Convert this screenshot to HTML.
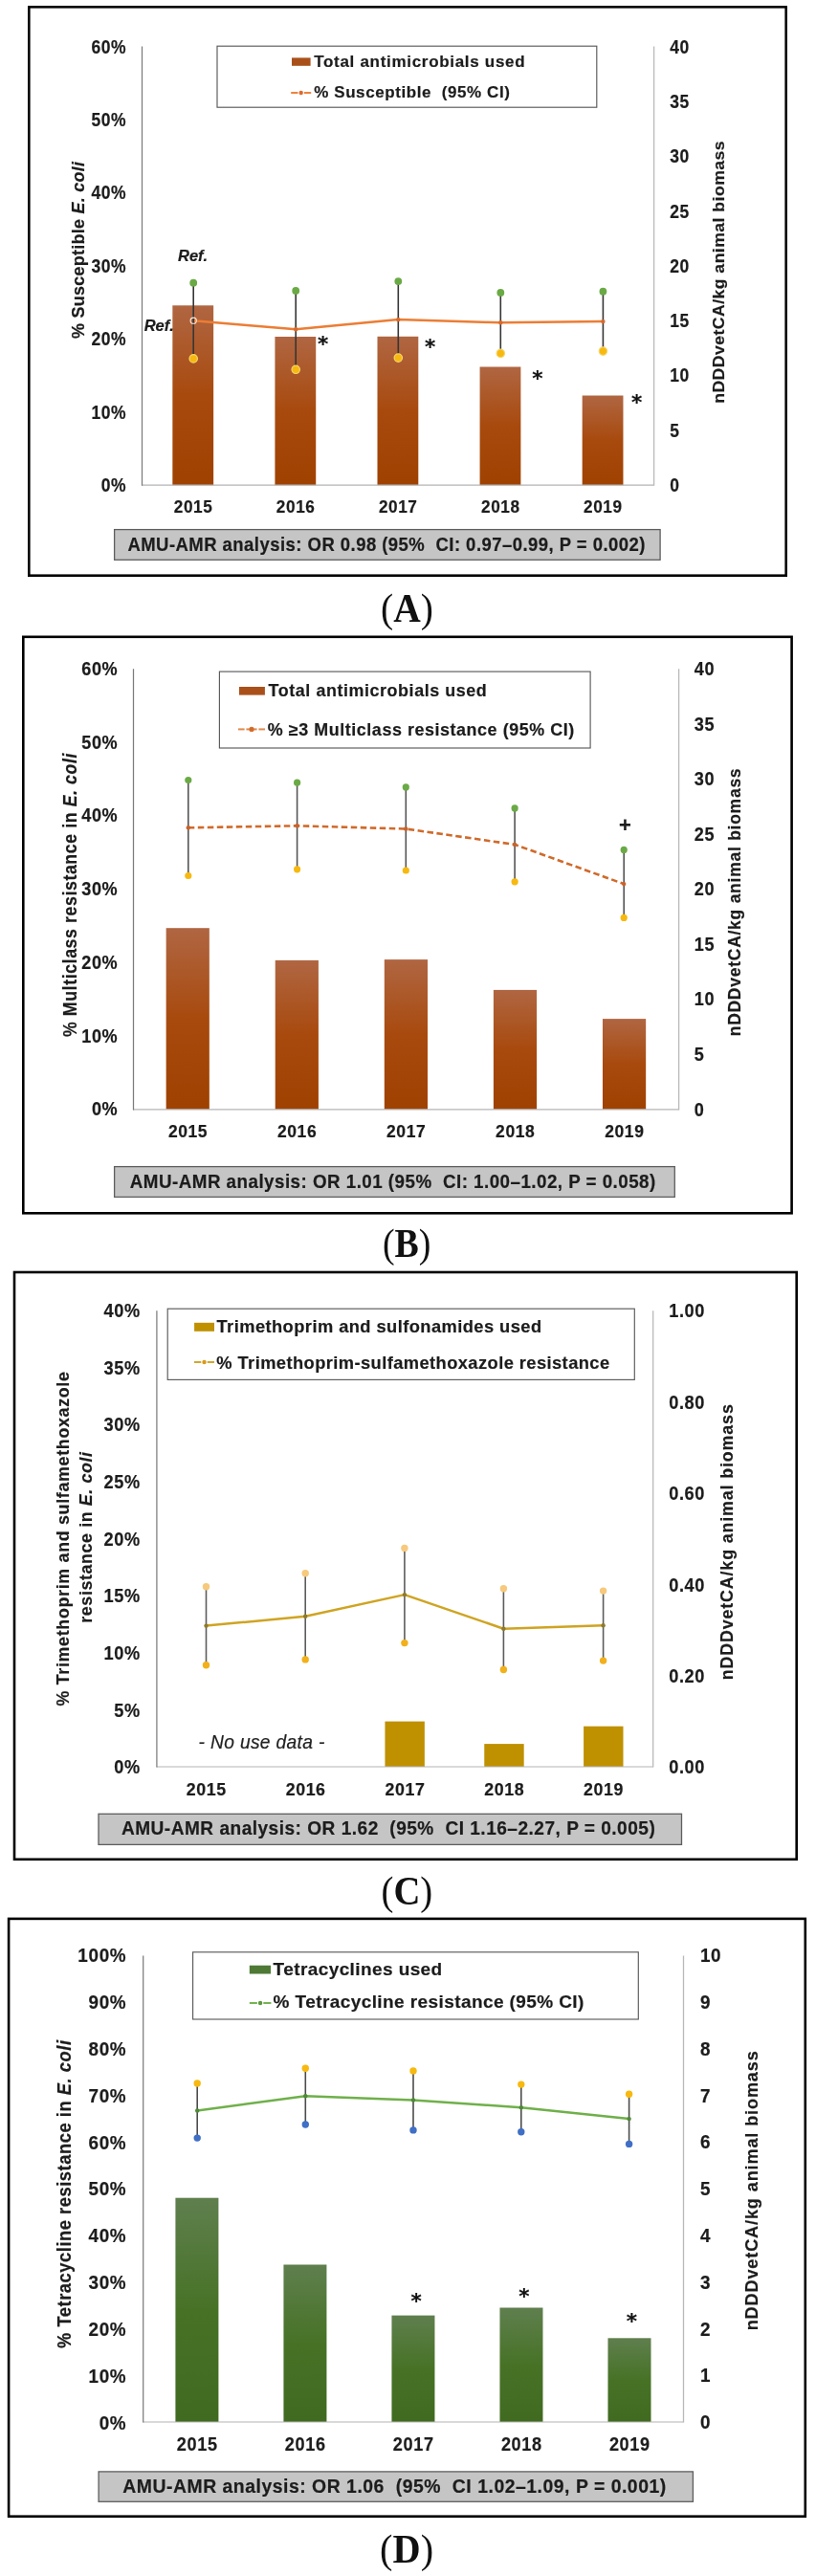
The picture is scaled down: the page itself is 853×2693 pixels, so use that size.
<!DOCTYPE html>
<html lang="en">
<head>
<meta charset="utf-8">
<title>AMU-AMR charts</title>
<style>
html,body{margin:0;padding:0;background:#fff;}
body{width:853px;height:2693px;overflow:hidden;}
svg{display:block;filter:blur(0.5px);}
text{white-space:pre;stroke:#1c1c1c;stroke-width:0.2px;stroke-linejoin:round;}
text.cap{stroke:none;}
</style>
</head>
<body>
<svg width="853" height="2693" viewBox="0 0 853 2693" font-family="'Liberation Sans', sans-serif" font-weight="bold" fill="#1c1c1c">
<defs><linearGradient id="gBrown" x1="0" y1="0" x2="0" y2="1"><stop offset="0" stop-color="#b06642"/><stop offset="0.5" stop-color="#a84a0e"/><stop offset="1" stop-color="#9f4100"/></linearGradient><linearGradient id="gGreen" x1="0" y1="0" x2="0" y2="1"><stop offset="0" stop-color="#5f7f4e"/><stop offset="0.5" stop-color="#477226"/><stop offset="1" stop-color="#406a20"/></linearGradient></defs>
<rect width="853" height="2693" fill="#fff"/>
<g>
<rect x="30.30" y="7.30" width="791.40" height="594.40" fill="#fff" stroke="#000" stroke-width="2.6"/>
<rect x="180.34" y="319.30" width="42.80" height="187.90" fill="url(#gBrown)"/>
<rect x="287.42" y="352.00" width="42.80" height="155.20" fill="url(#gBrown)"/>
<rect x="394.50" y="351.80" width="42.80" height="155.40" fill="url(#gBrown)"/>
<rect x="501.58" y="383.50" width="42.80" height="123.70" fill="url(#gBrown)"/>
<rect x="608.66" y="413.50" width="42.80" height="93.70" fill="url(#gBrown)"/>
<line x1="148.20" y1="507.20" x2="683.60" y2="507.20" stroke="#b4b4b4" stroke-width="1.2"/>
<line x1="148.50" y1="48.60" x2="148.50" y2="507.80" stroke="#7c7c7c" stroke-width="1.25"/>
<line x1="683.60" y1="48.60" x2="683.60" y2="507.80" stroke="#b9b9b9" stroke-width="1.3"/>
<text transform="translate(132.20,55.55) scale(1,1.11)" font-size="17.5" text-anchor="end" letter-spacing="0.6">60%</text>
<text transform="translate(132.20,131.95) scale(1,1.11)" font-size="17.5" text-anchor="end" letter-spacing="0.6">50%</text>
<text transform="translate(132.20,208.35) scale(1,1.11)" font-size="17.5" text-anchor="end" letter-spacing="0.6">40%</text>
<text transform="translate(132.20,284.75) scale(1,1.11)" font-size="17.5" text-anchor="end" letter-spacing="0.6">30%</text>
<text transform="translate(132.20,361.15) scale(1,1.11)" font-size="17.5" text-anchor="end" letter-spacing="0.6">20%</text>
<text transform="translate(132.20,437.55) scale(1,1.11)" font-size="17.5" text-anchor="end" letter-spacing="0.6">10%</text>
<text transform="translate(132.20,513.95) scale(1,1.11)" font-size="17.5" text-anchor="end" letter-spacing="0.6">0%</text>
<text transform="translate(700.30,55.65) scale(1,1.11)" font-size="17.5" letter-spacing="0.6">40</text>
<text transform="translate(700.30,112.94) scale(1,1.11)" font-size="17.5" letter-spacing="0.6">35</text>
<text transform="translate(700.30,170.23) scale(1,1.11)" font-size="17.5" letter-spacing="0.6">30</text>
<text transform="translate(700.30,227.52) scale(1,1.11)" font-size="17.5" letter-spacing="0.6">25</text>
<text transform="translate(700.30,284.80) scale(1,1.11)" font-size="17.5" letter-spacing="0.6">20</text>
<text transform="translate(700.30,342.09) scale(1,1.11)" font-size="17.5" letter-spacing="0.6">15</text>
<text transform="translate(700.30,399.38) scale(1,1.11)" font-size="17.5" letter-spacing="0.6">10</text>
<text transform="translate(700.30,456.67) scale(1,1.11)" font-size="17.5" letter-spacing="0.6">5</text>
<text transform="translate(700.30,513.95) scale(1,1.11)" font-size="17.5" letter-spacing="0.6">0</text>
<text transform="translate(202.04,535.99) scale(1,1.07)" font-size="17.2" text-anchor="middle" letter-spacing="0.6">2015</text>
<text transform="translate(309.12,535.99) scale(1,1.07)" font-size="17.2" text-anchor="middle" letter-spacing="0.6">2016</text>
<text transform="translate(416.20,535.99) scale(1,1.07)" font-size="17.2" text-anchor="middle" letter-spacing="0.6">2017</text>
<text transform="translate(523.28,535.99) scale(1,1.07)" font-size="17.2" text-anchor="middle" letter-spacing="0.6">2018</text>
<text transform="translate(630.36,535.99) scale(1,1.07)" font-size="17.2" text-anchor="middle" letter-spacing="0.6">2019</text>
<polyline points="202.20,335.20 309.20,344.30 416.30,334.10 523.30,337.30 630.40,336.10" fill="none" stroke="#ec7d34" stroke-width="2.5" stroke-linejoin="round"/>
<line x1="202.20" y1="295.70" x2="202.20" y2="374.90" stroke="#363636" stroke-width="1.6"/>
<line x1="309.20" y1="303.90" x2="309.20" y2="386.30" stroke="#363636" stroke-width="1.6"/>
<line x1="416.30" y1="294.10" x2="416.30" y2="374.10" stroke="#363636" stroke-width="1.6"/>
<line x1="523.30" y1="305.90" x2="523.30" y2="369.40" stroke="#363636" stroke-width="1.6"/>
<line x1="630.40" y1="304.70" x2="630.40" y2="367.10" stroke="#363636" stroke-width="1.6"/>
<circle cx="309.20" cy="344.30" r="2.2" fill="#d9692a"/>
<circle cx="416.30" cy="334.10" r="2.2" fill="#d9692a"/>
<circle cx="523.30" cy="337.30" r="2.2" fill="#d9692a"/>
<circle cx="630.40" cy="336.10" r="2.2" fill="#d9692a"/>
<circle cx="202.20" cy="295.70" r="3.9" fill="#6aaa45"/>
<circle cx="202.20" cy="374.90" r="4.2" fill="#f7b90f" stroke="#f6d66a" stroke-width="1.2"/>
<circle cx="309.20" cy="303.90" r="3.9" fill="#6aaa45"/>
<circle cx="309.20" cy="386.30" r="4.2" fill="#f7b90f" stroke="#f6d66a" stroke-width="1.2"/>
<circle cx="416.30" cy="294.10" r="3.9" fill="#6aaa45"/>
<circle cx="416.30" cy="374.10" r="4.2" fill="#f7b90f" stroke="#f6d66a" stroke-width="1.2"/>
<circle cx="523.30" cy="305.90" r="3.9" fill="#6aaa45"/>
<circle cx="523.30" cy="369.40" r="4.2" fill="#f7b90f" stroke="#f6d66a" stroke-width="1.2"/>
<circle cx="630.40" cy="304.70" r="3.9" fill="#6aaa45"/>
<circle cx="630.40" cy="367.10" r="4.2" fill="#f7b90f" stroke="#f6d66a" stroke-width="1.2"/>
<rect x="227.00" y="48.20" width="396.80" height="64.00" fill="#fff" stroke="#5a5a5a" stroke-width="1.15"/>
<rect x="305.00" y="60.40" width="19.60" height="8.40" fill="#a9501a"/>
<text transform="translate(328.20,70.00) scale(1,0.98)" font-size="17.0" textLength="220.40" lengthAdjust="spacing">Total antimicrobials used</text>
<line x1="304.20" y1="97.00" x2="311.50" y2="97.00" stroke="#ec7d34" stroke-width="1.9"/>
<line x1="317.90" y1="97.00" x2="325.20" y2="97.00" stroke="#ec7d34" stroke-width="1.9"/>
<circle cx="314.70" cy="97.00" r="2.2" fill="#e2692a"/>
<text transform="translate(328.20,101.80) scale(1,0.98)" font-size="17.0" textLength="204.70" lengthAdjust="spacing">% Susceptible &#160;(95% CI)</text>
<rect x="119.60" y="553.60" width="570.50" height="31.70" fill="#c5c5c5" stroke="#5e5e5e" stroke-width="1.3"/>
<text transform="translate(133.40,575.60) scale(1,1.07)" font-size="18.5" textLength="541.10" lengthAdjust="spacing">AMU-AMR analysis: OR 0.98 (95% &#160;CI: 0.97–0.99, P = 0.002)</text>
<text transform="translate(87.90,353.90) rotate(-90) scale(1,1.07)" font-size="17.9" textLength="185.00" lengthAdjust="spacing">% Susceptible <tspan font-style="italic">E. coli</tspan></text>
<text transform="translate(757.20,421.80) rotate(-90) scale(1,0.97)" font-size="17.6" textLength="274.40" lengthAdjust="spacing">nDDDvetCA/kg animal biomass</text>
<text x="337.60" y="366.70" font-size="21.5" text-anchor="middle" font-family="'DejaVu Sans', sans-serif" fill="#111">*</text>
<text x="449.60" y="370.00" font-size="21.5" text-anchor="middle" font-family="'DejaVu Sans', sans-serif" fill="#111">*</text>
<text x="561.80" y="402.60" font-size="21.5" text-anchor="middle" font-family="'DejaVu Sans', sans-serif" fill="#111">*</text>
<text x="665.50" y="428.20" font-size="21.5" text-anchor="middle" font-family="'DejaVu Sans', sans-serif" fill="#111">*</text>
<text transform="translate(425.40,649.90) scale(1.0,1.08)" class="cap" font-size="39.5" text-anchor="middle" font-family="'Liberation Serif', serif" font-weight="normal" fill="#111">(<tspan font-weight="bold">A</tspan>)</text>
</g>
<g>
<rect x="24.30" y="665.80" width="803.30" height="602.50" fill="#fff" stroke="#000" stroke-width="2.6"/>
<rect x="173.64" y="970.20" width="45.20" height="189.60" fill="url(#gBrown)"/>
<rect x="287.72" y="1003.90" width="45.20" height="155.90" fill="url(#gBrown)"/>
<rect x="401.80" y="1003.10" width="45.20" height="156.70" fill="url(#gBrown)"/>
<rect x="515.88" y="1034.90" width="45.20" height="124.90" fill="url(#gBrown)"/>
<rect x="629.96" y="1065.10" width="45.20" height="94.70" fill="url(#gBrown)"/>
<line x1="139.20" y1="1159.80" x2="709.60" y2="1159.80" stroke="#b4b4b4" stroke-width="1.2"/>
<line x1="139.50" y1="699.20" x2="139.50" y2="1160.40" stroke="#7c7c7c" stroke-width="1.25"/>
<line x1="709.60" y1="699.20" x2="709.60" y2="1160.40" stroke="#b9b9b9" stroke-width="1.3"/>
<text transform="translate(123.30,705.79) scale(1,1.11)" font-size="18.1" text-anchor="end" letter-spacing="0.6">60%</text>
<text transform="translate(123.30,782.58) scale(1,1.11)" font-size="18.1" text-anchor="end" letter-spacing="0.6">50%</text>
<text transform="translate(123.30,859.36) scale(1,1.11)" font-size="18.1" text-anchor="end" letter-spacing="0.6">40%</text>
<text transform="translate(123.30,936.14) scale(1,1.11)" font-size="18.1" text-anchor="end" letter-spacing="0.6">30%</text>
<text transform="translate(123.30,1012.93) scale(1,1.11)" font-size="18.1" text-anchor="end" letter-spacing="0.6">20%</text>
<text transform="translate(123.30,1089.71) scale(1,1.11)" font-size="18.1" text-anchor="end" letter-spacing="0.6">10%</text>
<text transform="translate(123.30,1166.49) scale(1,1.11)" font-size="18.1" text-anchor="end" letter-spacing="0.6">0%</text>
<text transform="translate(725.80,706.09) scale(1,1.11)" font-size="18.1" letter-spacing="0.6">40</text>
<text transform="translate(725.80,763.66) scale(1,1.11)" font-size="18.1" letter-spacing="0.6">35</text>
<text transform="translate(725.80,821.22) scale(1,1.11)" font-size="18.1" letter-spacing="0.6">30</text>
<text transform="translate(725.80,878.78) scale(1,1.11)" font-size="18.1" letter-spacing="0.6">25</text>
<text transform="translate(725.80,936.34) scale(1,1.11)" font-size="18.1" letter-spacing="0.6">20</text>
<text transform="translate(725.80,993.91) scale(1,1.11)" font-size="18.1" letter-spacing="0.6">15</text>
<text transform="translate(725.80,1051.47) scale(1,1.11)" font-size="18.1" letter-spacing="0.6">10</text>
<text transform="translate(725.80,1109.03) scale(1,1.11)" font-size="18.1" letter-spacing="0.6">5</text>
<text transform="translate(725.80,1166.59) scale(1,1.11)" font-size="18.1" letter-spacing="0.6">0</text>
<text transform="translate(196.54,1189.40) scale(1,1.07)" font-size="17.5" text-anchor="middle" letter-spacing="0.6">2015</text>
<text transform="translate(310.62,1189.40) scale(1,1.07)" font-size="17.5" text-anchor="middle" letter-spacing="0.6">2016</text>
<text transform="translate(424.70,1189.40) scale(1,1.07)" font-size="17.5" text-anchor="middle" letter-spacing="0.6">2017</text>
<text transform="translate(538.78,1189.40) scale(1,1.07)" font-size="17.5" text-anchor="middle" letter-spacing="0.6">2018</text>
<text transform="translate(652.86,1189.40) scale(1,1.07)" font-size="17.5" text-anchor="middle" letter-spacing="0.6">2019</text>
<polyline points="196.80,865.30 310.60,863.30 424.30,866.50 538.10,882.90 652.20,924.10" fill="none" stroke="#d06a2b" stroke-width="2.6" stroke-linejoin="round" stroke-dasharray="6.5 3.5"/>
<line x1="196.80" y1="815.50" x2="196.80" y2="915.50" stroke="#555555" stroke-width="1.6"/>
<line x1="310.60" y1="818.20" x2="310.60" y2="908.80" stroke="#555555" stroke-width="1.6"/>
<line x1="424.30" y1="822.90" x2="424.30" y2="910.00" stroke="#555555" stroke-width="1.6"/>
<line x1="538.10" y1="844.90" x2="538.10" y2="921.80" stroke="#555555" stroke-width="1.6"/>
<line x1="652.20" y1="888.40" x2="652.20" y2="959.40" stroke="#555555" stroke-width="1.6"/>
<circle cx="196.80" cy="865.30" r="2.2" fill="#c8622a"/>
<circle cx="310.60" cy="863.30" r="2.2" fill="#c8622a"/>
<circle cx="424.30" cy="866.50" r="2.2" fill="#c8622a"/>
<circle cx="538.10" cy="882.90" r="2.2" fill="#c8622a"/>
<circle cx="652.20" cy="924.10" r="2.2" fill="#c8622a"/>
<circle cx="196.80" cy="815.50" r="3.6" fill="#6aaa45"/>
<circle cx="196.80" cy="915.50" r="3.6" fill="#f7b90f"/>
<circle cx="310.60" cy="818.20" r="3.6" fill="#6aaa45"/>
<circle cx="310.60" cy="908.80" r="3.6" fill="#f7b90f"/>
<circle cx="424.30" cy="822.90" r="3.6" fill="#6aaa45"/>
<circle cx="424.30" cy="910.00" r="3.6" fill="#f7b90f"/>
<circle cx="538.10" cy="844.90" r="3.6" fill="#6aaa45"/>
<circle cx="538.10" cy="921.80" r="3.6" fill="#f7b90f"/>
<circle cx="652.20" cy="888.40" r="3.6" fill="#6aaa45"/>
<circle cx="652.20" cy="959.40" r="3.6" fill="#f7b90f"/>
<rect x="229.40" y="702.10" width="387.70" height="79.90" fill="#fff" stroke="#5a5a5a" stroke-width="1.15"/>
<rect x="250.00" y="718.00" width="26.90" height="8.60" fill="#a9501a"/>
<text transform="translate(280.60,727.80) scale(1,0.98)" font-size="17.9" textLength="228.20" lengthAdjust="spacing">Total antimicrobials used</text>
<line x1="249.00" y1="762.40" x2="255.60" y2="762.40" stroke="#e08a4c" stroke-width="2.0"/>
<line x1="270.40" y1="762.40" x2="277.00" y2="762.40" stroke="#e08a4c" stroke-width="2.0"/>
<line x1="257.40" y1="762.40" x2="261.00" y2="762.40" stroke="#e08a4c" stroke-width="2.0"/>
<line x1="265.00" y1="762.40" x2="268.60" y2="762.40" stroke="#e08a4c" stroke-width="2.0"/>
<circle cx="263.00" cy="762.40" r="2.7" fill="#e37a3c"/>
<circle cx="263.00" cy="762.40" r="2.2" fill="#d06a2b"/>
<text transform="translate(279.80,768.70) scale(1,0.98)" font-size="17.9" textLength="320.40" lengthAdjust="spacing">% ≥3 Multiclass resistance (95% CI)</text>
<rect x="119.60" y="1219.60" width="585.70" height="31.80" fill="#c5c5c5" stroke="#5e5e5e" stroke-width="1.3"/>
<text transform="translate(135.80,1242.00) scale(1,1.07)" font-size="18.8" textLength="549.50" lengthAdjust="spacing">AMU-AMR analysis: OR 1.01 (95% &#160;CI: 1.00–1.02, P = 0.058)</text>
<text transform="translate(80.30,1084.00) rotate(-90) scale(1,1.09)" font-size="17.7" textLength="296.40" lengthAdjust="spacing">% Multiclass resistance in <tspan font-style="italic">E. coli</tspan></text>
<text transform="translate(773.60,1083.30) rotate(-90) scale(1,1.04)" font-size="17.5" textLength="279.90" lengthAdjust="spacing">nDDDvetCA/kg animal biomass</text>
<text transform="translate(425.20,1313.70) scale(0.96,1.08)" class="cap" font-size="39.5" text-anchor="middle" font-family="'Liberation Serif', serif" font-weight="normal" fill="#111">(<tspan font-weight="bold">B</tspan>)</text>
</g>
<g>
<rect x="15.00" y="1330.00" width="817.70" height="613.80" fill="#fff" stroke="#000" stroke-width="2.6"/>
<rect x="402.45" y="1799.60" width="41.40" height="47.40" fill="#bf9000"/>
<rect x="506.27" y="1823.10" width="41.40" height="23.90" fill="#bf9000"/>
<rect x="610.09" y="1804.70" width="41.40" height="42.30" fill="#bf9000"/>
<line x1="163.60" y1="1847.00" x2="682.70" y2="1847.00" stroke="#b4b4b4" stroke-width="1.2"/>
<line x1="163.90" y1="1370.20" x2="163.90" y2="1847.60" stroke="#7c7c7c" stroke-width="1.25"/>
<line x1="682.70" y1="1370.20" x2="682.70" y2="1847.60" stroke="#b9b9b9" stroke-width="1.3"/>
<text transform="translate(146.70,1377.16) scale(1,1.13)" font-size="18.2" text-anchor="end" letter-spacing="0.6">40%</text>
<text transform="translate(146.70,1436.83) scale(1,1.13)" font-size="18.2" text-anchor="end" letter-spacing="0.6">35%</text>
<text transform="translate(146.70,1496.49) scale(1,1.13)" font-size="18.2" text-anchor="end" letter-spacing="0.6">30%</text>
<text transform="translate(146.70,1556.15) scale(1,1.13)" font-size="18.2" text-anchor="end" letter-spacing="0.6">25%</text>
<text transform="translate(146.70,1615.81) scale(1,1.13)" font-size="18.2" text-anchor="end" letter-spacing="0.6">20%</text>
<text transform="translate(146.70,1675.48) scale(1,1.13)" font-size="18.2" text-anchor="end" letter-spacing="0.6">15%</text>
<text transform="translate(146.70,1735.14) scale(1,1.13)" font-size="18.2" text-anchor="end" letter-spacing="0.6">10%</text>
<text transform="translate(146.70,1794.80) scale(1,1.13)" font-size="18.2" text-anchor="end" letter-spacing="0.6">5%</text>
<text transform="translate(146.70,1854.46) scale(1,1.13)" font-size="18.2" text-anchor="end" letter-spacing="0.6">0%</text>
<text transform="translate(699.20,1377.36) scale(1,1.13)" font-size="18.2" letter-spacing="0.6">1.00</text>
<text transform="translate(699.20,1472.74) scale(1,1.13)" font-size="18.2" letter-spacing="0.6">0.80</text>
<text transform="translate(699.20,1568.12) scale(1,1.13)" font-size="18.2" letter-spacing="0.6">0.60</text>
<text transform="translate(699.20,1663.50) scale(1,1.13)" font-size="18.2" letter-spacing="0.6">0.40</text>
<text transform="translate(699.20,1758.88) scale(1,1.13)" font-size="18.2" letter-spacing="0.6">0.20</text>
<text transform="translate(699.20,1854.26) scale(1,1.13)" font-size="18.2" letter-spacing="0.6">0.00</text>
<text transform="translate(215.81,1877.42) scale(1,1.07)" font-size="17.8" text-anchor="middle" letter-spacing="0.6">2015</text>
<text transform="translate(319.63,1877.42) scale(1,1.07)" font-size="17.8" text-anchor="middle" letter-spacing="0.6">2016</text>
<text transform="translate(423.45,1877.42) scale(1,1.07)" font-size="17.8" text-anchor="middle" letter-spacing="0.6">2017</text>
<text transform="translate(527.27,1877.42) scale(1,1.07)" font-size="17.8" text-anchor="middle" letter-spacing="0.6">2018</text>
<text transform="translate(631.09,1877.42) scale(1,1.07)" font-size="17.8" text-anchor="middle" letter-spacing="0.6">2019</text>
<polyline points="215.50,1699.60 319.20,1689.80 422.90,1667.10 526.40,1702.70 630.60,1699.20" fill="none" stroke="#cfa422" stroke-width="2.5" stroke-linejoin="round"/>
<line x1="215.50" y1="1658.80" x2="215.50" y2="1740.80" stroke="#5c5c5c" stroke-width="1.6"/>
<line x1="319.20" y1="1644.70" x2="319.20" y2="1734.90" stroke="#5c5c5c" stroke-width="1.6"/>
<line x1="422.90" y1="1618.40" x2="422.90" y2="1717.60" stroke="#5c5c5c" stroke-width="1.6"/>
<line x1="526.40" y1="1660.80" x2="526.40" y2="1745.50" stroke="#5c5c5c" stroke-width="1.6"/>
<line x1="630.60" y1="1663.10" x2="630.60" y2="1736.10" stroke="#5c5c5c" stroke-width="1.6"/>
<circle cx="215.50" cy="1699.60" r="2.2" fill="#8e7a2a"/>
<circle cx="319.20" cy="1689.80" r="2.2" fill="#8e7a2a"/>
<circle cx="422.90" cy="1667.10" r="2.2" fill="#8e7a2a"/>
<circle cx="526.40" cy="1702.70" r="2.2" fill="#8e7a2a"/>
<circle cx="630.60" cy="1699.20" r="2.2" fill="#8e7a2a"/>
<circle cx="215.50" cy="1658.80" r="3.7" fill="#f6c97c"/>
<circle cx="215.50" cy="1740.80" r="3.7" fill="#f2b01a"/>
<circle cx="319.20" cy="1644.70" r="3.7" fill="#f6c97c"/>
<circle cx="319.20" cy="1734.90" r="3.7" fill="#f2b01a"/>
<circle cx="422.90" cy="1618.40" r="3.7" fill="#f6c97c"/>
<circle cx="422.90" cy="1717.60" r="3.7" fill="#f2b01a"/>
<circle cx="526.40" cy="1660.80" r="3.7" fill="#f6c97c"/>
<circle cx="526.40" cy="1745.50" r="3.7" fill="#f2b01a"/>
<circle cx="630.60" cy="1663.10" r="3.7" fill="#f6c97c"/>
<circle cx="630.60" cy="1736.10" r="3.7" fill="#f2b01a"/>
<rect x="175.20" y="1368.20" width="488.10" height="74.20" fill="#fff" stroke="#5a5a5a" stroke-width="1.15"/>
<rect x="203.10" y="1382.80" width="20.90" height="9.00" fill="#bf9000"/>
<text transform="translate(226.50,1392.50) scale(1,0.98)" font-size="18.3" textLength="339.60" lengthAdjust="spacing">Trimethoprim and sulfonamides used</text>
<line x1="203.00" y1="1424.00" x2="210.30" y2="1424.00" stroke="#cfa422" stroke-width="1.9"/>
<line x1="216.70" y1="1424.00" x2="224.00" y2="1424.00" stroke="#cfa422" stroke-width="1.9"/>
<circle cx="213.50" cy="1424.00" r="2.2" fill="#d99a1a"/>
<text transform="translate(226.30,1430.60) scale(1,0.98)" font-size="18.3" textLength="410.80" lengthAdjust="spacing">% Trimethoprim-sulfamethoxazole resistance</text>
<rect x="103.00" y="1896.30" width="609.50" height="32.10" fill="#c5c5c5" stroke="#5e5e5e" stroke-width="1.3"/>
<text transform="translate(126.90,1918.40) scale(1,1.07)" font-size="19.1" textLength="557.90" lengthAdjust="spacing">AMU-AMR analysis: OR 1.62 &#160;(95% &#160;CI 1.16–2.27, P = 0.005)</text>
<text transform="translate(72.00,1783.50) rotate(-90) scale(1,1.04)" font-size="17.8" textLength="349.40" lengthAdjust="spacing">% Trimethoprim and sulfamethoxazole</text>
<text transform="translate(95.50,1696.70) rotate(-90) scale(1,1.04)" font-size="17.8" textLength="178.70" lengthAdjust="spacing">resistance in <tspan font-style="italic">E. coli</tspan></text>
<text transform="translate(766.20,1756.30) rotate(-90) scale(1,1.04)" font-size="17.8" textLength="288.10" lengthAdjust="spacing">nDDDvetCA/kg animal biomass</text>
<text transform="translate(425.40,1990.60) scale(0.98,1.08)" class="cap" font-size="39.5" text-anchor="middle" font-family="'Liberation Serif', serif" font-weight="normal" fill="#111">(<tspan font-weight="bold">C</tspan>)</text>
</g>
<g>
<rect x="9.10" y="2005.90" width="832.70" height="624.80" fill="#fff" stroke="#000" stroke-width="2.6"/>
<rect x="183.41" y="2297.70" width="45.00" height="234.30" fill="url(#gGreen)"/>
<rect x="296.43" y="2367.50" width="45.00" height="164.50" fill="url(#gGreen)"/>
<rect x="409.45" y="2420.60" width="45.00" height="111.40" fill="url(#gGreen)"/>
<rect x="522.47" y="2412.50" width="45.00" height="119.50" fill="url(#gGreen)"/>
<rect x="635.49" y="2444.30" width="45.00" height="87.70" fill="url(#gGreen)"/>
<line x1="149.40" y1="2532.00" x2="714.50" y2="2532.00" stroke="#b4b4b4" stroke-width="1.2"/>
<line x1="149.70" y1="2044.60" x2="149.70" y2="2532.60" stroke="#7c7c7c" stroke-width="1.25"/>
<line x1="714.50" y1="2044.60" x2="714.50" y2="2532.60" stroke="#b9b9b9" stroke-width="1.3"/>
<text transform="translate(132.25,2051.21) scale(1,1.11)" font-size="18.9" text-anchor="end" letter-spacing="0.65">100%</text>
<text transform="translate(132.25,2100.06) scale(1,1.11)" font-size="18.9" text-anchor="end" letter-spacing="0.65">90%</text>
<text transform="translate(132.25,2148.91) scale(1,1.11)" font-size="18.9" text-anchor="end" letter-spacing="0.65">80%</text>
<text transform="translate(132.25,2197.76) scale(1,1.11)" font-size="18.9" text-anchor="end" letter-spacing="0.65">70%</text>
<text transform="translate(132.25,2246.61) scale(1,1.11)" font-size="18.9" text-anchor="end" letter-spacing="0.65">60%</text>
<text transform="translate(132.25,2295.46) scale(1,1.11)" font-size="18.9" text-anchor="end" letter-spacing="0.65">50%</text>
<text transform="translate(132.25,2344.31) scale(1,1.11)" font-size="18.9" text-anchor="end" letter-spacing="0.65">40%</text>
<text transform="translate(132.25,2393.16) scale(1,1.11)" font-size="18.9" text-anchor="end" letter-spacing="0.65">30%</text>
<text transform="translate(132.25,2442.01) scale(1,1.11)" font-size="18.9" text-anchor="end" letter-spacing="0.65">20%</text>
<text transform="translate(132.25,2490.86) scale(1,1.11)" font-size="18.9" text-anchor="end" letter-spacing="0.65">10%</text>
<text transform="translate(132.25,2539.71) scale(1,1.11)" font-size="18.9" text-anchor="end" letter-spacing="0.65">0%</text>
<text transform="translate(731.90,2051.11) scale(1,1.11)" font-size="18.9" letter-spacing="0.65">10</text>
<text transform="translate(731.90,2099.91) scale(1,1.11)" font-size="18.9" letter-spacing="0.65">9</text>
<text transform="translate(731.90,2148.71) scale(1,1.11)" font-size="18.9" letter-spacing="0.65">8</text>
<text transform="translate(731.90,2197.51) scale(1,1.11)" font-size="18.9" letter-spacing="0.65">7</text>
<text transform="translate(731.90,2246.31) scale(1,1.11)" font-size="18.9" letter-spacing="0.65">6</text>
<text transform="translate(731.90,2295.11) scale(1,1.11)" font-size="18.9" letter-spacing="0.65">5</text>
<text transform="translate(731.90,2343.91) scale(1,1.11)" font-size="18.9" letter-spacing="0.65">4</text>
<text transform="translate(731.90,2392.71) scale(1,1.11)" font-size="18.9" letter-spacing="0.65">3</text>
<text transform="translate(731.90,2441.51) scale(1,1.11)" font-size="18.9" letter-spacing="0.65">2</text>
<text transform="translate(731.90,2490.31) scale(1,1.11)" font-size="18.9" letter-spacing="0.65">1</text>
<text transform="translate(731.90,2539.11) scale(1,1.11)" font-size="18.9" letter-spacing="0.65">0</text>
<text transform="translate(206.24,2562.13) scale(1,1.07)" font-size="18.1" text-anchor="middle" letter-spacing="0.65">2015</text>
<text transform="translate(319.26,2562.13) scale(1,1.07)" font-size="18.1" text-anchor="middle" letter-spacing="0.65">2016</text>
<text transform="translate(432.28,2562.13) scale(1,1.07)" font-size="18.1" text-anchor="middle" letter-spacing="0.65">2017</text>
<text transform="translate(545.30,2562.13) scale(1,1.07)" font-size="18.1" text-anchor="middle" letter-spacing="0.65">2018</text>
<text transform="translate(658.32,2562.13) scale(1,1.07)" font-size="18.1" text-anchor="middle" letter-spacing="0.65">2019</text>
<polyline points="206.20,2206.50 319.30,2191.20 432.00,2195.50 544.80,2203.30 657.60,2215.10" fill="none" stroke="#6fb04a" stroke-width="2.5" stroke-linejoin="round"/>
<line x1="206.20" y1="2178.00" x2="206.20" y2="2235.10" stroke="#4c4c4c" stroke-width="1.6"/>
<line x1="319.30" y1="2162.20" x2="319.30" y2="2221.00" stroke="#4c4c4c" stroke-width="1.6"/>
<line x1="432.00" y1="2164.90" x2="432.00" y2="2226.90" stroke="#4c4c4c" stroke-width="1.6"/>
<line x1="544.80" y1="2179.10" x2="544.80" y2="2228.80" stroke="#4c4c4c" stroke-width="1.6"/>
<line x1="657.60" y1="2189.30" x2="657.60" y2="2241.40" stroke="#4c4c4c" stroke-width="1.6"/>
<circle cx="206.20" cy="2206.50" r="2.2" fill="#4d8a35"/>
<circle cx="319.30" cy="2191.20" r="2.2" fill="#4d8a35"/>
<circle cx="432.00" cy="2195.50" r="2.2" fill="#4d8a35"/>
<circle cx="544.80" cy="2203.30" r="2.2" fill="#4d8a35"/>
<circle cx="657.60" cy="2215.10" r="2.2" fill="#4d8a35"/>
<circle cx="206.20" cy="2178.00" r="3.7" fill="#f7b90f"/>
<circle cx="206.20" cy="2235.10" r="3.7" fill="#3f6fc6"/>
<circle cx="319.30" cy="2162.20" r="3.7" fill="#f7b90f"/>
<circle cx="319.30" cy="2221.00" r="3.7" fill="#3f6fc6"/>
<circle cx="432.00" cy="2164.90" r="3.7" fill="#f7b90f"/>
<circle cx="432.00" cy="2226.90" r="3.7" fill="#3f6fc6"/>
<circle cx="544.80" cy="2179.10" r="3.7" fill="#f7b90f"/>
<circle cx="544.80" cy="2228.80" r="3.7" fill="#3f6fc6"/>
<circle cx="657.60" cy="2189.30" r="3.7" fill="#f7b90f"/>
<circle cx="657.60" cy="2241.40" r="3.7" fill="#3f6fc6"/>
<rect x="201.60" y="2040.80" width="465.70" height="70.20" fill="#fff" stroke="#5a5a5a" stroke-width="1.15"/>
<rect x="260.80" y="2054.70" width="22.20" height="8.80" fill="#4e7a35"/>
<text transform="translate(285.60,2064.70) scale(1,0.98)" font-size="19.0" textLength="176.60" lengthAdjust="spacing">Tetracyclines used</text>
<line x1="260.80" y1="2094.00" x2="268.90" y2="2094.00" stroke="#6fb04a" stroke-width="1.9"/>
<line x1="275.30" y1="2094.00" x2="283.40" y2="2094.00" stroke="#6fb04a" stroke-width="1.9"/>
<circle cx="272.10" cy="2094.00" r="2.2" fill="#5a9a3a"/>
<text transform="translate(285.60,2099.40) scale(1,0.98)" font-size="19.0" textLength="324.80" lengthAdjust="spacing">% Tetracycline resistance (95% CI)</text>
<rect x="103.10" y="2583.90" width="621.30" height="31.40" fill="#c5c5c5" stroke="#5e5e5e" stroke-width="1.3"/>
<text transform="translate(128.30,2605.50) scale(1,1.07)" font-size="19.400000000000002" textLength="567.90" lengthAdjust="spacing">AMU-AMR analysis: OR 1.06 &#160;(95% &#160;CI 1.02–1.09, P = 0.001)</text>
<text transform="translate(74.40,2455.00) rotate(-90) scale(1,1.09)" font-size="18.3" textLength="322.00" lengthAdjust="spacing">% Tetracycline resistance in <tspan font-style="italic">E. coli</tspan></text>
<text transform="translate(792.40,2436.30) rotate(-90) scale(1,1.04)" font-size="18.1" textLength="292.10" lengthAdjust="spacing">nDDDvetCA/kg animal biomass</text>
<text x="435.20" y="2413.20" font-size="21.5" text-anchor="middle" font-family="'DejaVu Sans', sans-serif" fill="#111">*</text>
<text x="547.80" y="2408.30" font-size="21.5" text-anchor="middle" font-family="'DejaVu Sans', sans-serif" fill="#111">*</text>
<text x="660.40" y="2433.70" font-size="21.5" text-anchor="middle" font-family="'DejaVu Sans', sans-serif" fill="#111">*</text>
<text transform="translate(425.10,2678.50) scale(1.02,1.08)" class="cap" font-size="39.5" text-anchor="middle" font-family="'Liberation Serif', serif" font-weight="normal" fill="#111">(<tspan font-weight="bold">D</tspan>)</text>
</g>
<text x="186.00" y="273.30" font-size="16.5" font-style="italic" textLength="31.20" lengthAdjust="spacing">Ref.</text>
<text x="150.70" y="346.40" font-size="16.5" font-style="italic" textLength="31.20" lengthAdjust="spacing">Ref.</text>
<circle cx="202.20" cy="335.20" r="3.1" fill="none" stroke="#fdeee4" stroke-width="1.1"/>
<text x="653.40" y="869.60" font-size="22" text-anchor="middle">+</text>
<text transform="translate(207.60,1827.70) scale(1,1.07)" font-size="19.2" font-weight="normal" font-style="italic" fill="#222" textLength="131.80" lengthAdjust="spacing">- No use data -</text>
</svg>
</body>
</html>
